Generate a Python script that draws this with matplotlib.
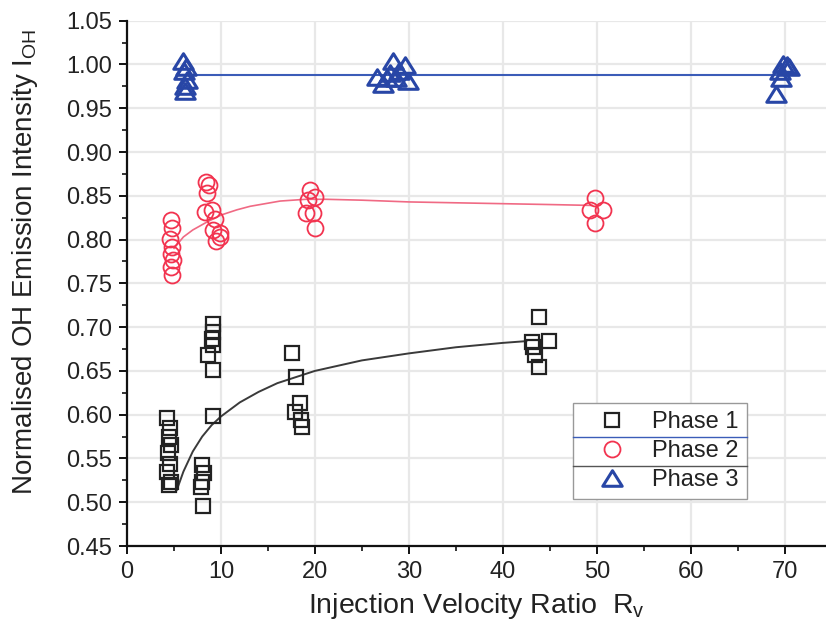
import matplotlib
matplotlib.use("Agg")
import matplotlib.pyplot as plt
from matplotlib.path import Path
from matplotlib.lines import Line2D
from matplotlib.ticker import MultipleLocator, FormatStrFormatter

plt.rcParams["font.family"] = ["Liberation Sans", "DejaVu Sans"]
plt.rcParams["mathtext.default"] = "regular"

# Phase 1 measurements (squares)
p1_x = [4.3, 4.6, 4.5, 4.7, 4.4, 4.6, 4.3, 4.7, 4.5,
        9.1, 9.2, 9.0, 9.1, 8.6, 9.2, 9.2,
        8.0, 8.2, 8.0, 7.9, 8.1,
        17.6, 18.0, 18.4, 17.9, 18.5, 18.6,
        43.9, 43.1, 44.9, 43.2, 43.4, 43.9]
p1_y = [0.596, 0.585, 0.575, 0.565, 0.556, 0.544, 0.535, 0.523, 0.520,
        0.704, 0.695, 0.687, 0.680, 0.668, 0.651, 0.598,
        0.542, 0.533, 0.523, 0.517, 0.496,
        0.670, 0.643, 0.613, 0.603, 0.594, 0.586,
        0.711, 0.683, 0.684, 0.677, 0.668, 0.655]

# Phase 2 measurements (circles)
p2_x = [4.7, 4.8, 4.6, 4.8, 4.7, 4.9, 4.7, 4.8,
        8.4, 8.75, 8.5, 8.3, 9.0, 9.4, 9.2, 9.9, 9.5, 9.9,
        19.5, 20.0, 19.3, 19.8, 19.1, 20.0,
        49.8, 49.3, 50.7, 49.8]
p2_y = [0.822, 0.813, 0.801, 0.792, 0.784, 0.777, 0.769, 0.760,
        0.866, 0.862, 0.853, 0.832, 0.834, 0.824, 0.811, 0.807, 0.798, 0.803,
        0.857, 0.849, 0.845, 0.830, 0.830, 0.813,
        0.847, 0.834, 0.834, 0.819]

# Phase 3 measurements (triangles)
p3_x = [6.0, 6.3, 6.1, 6.4, 6.2, 6.2,
        26.6, 27.2, 27.7, 28.0, 28.3, 28.6, 29.0, 29.6, 29.9,
        69.8, 70.2, 70.5, 69.5, 69.6, 69.1]
p3_y = [1.004, 0.997, 0.993, 0.982, 0.975, 0.970,
        0.986, 0.978, 0.984, 0.990, 1.004, 0.985, 0.992, 0.999, 0.981,
        1.001, 0.999, 0.997, 0.992, 0.984, 0.966]

# Trend curves
fit1_x = [5.3, 6, 7, 8, 9, 10, 12, 14, 16, 18, 20, 25, 30, 35, 40, 42.5]
fit1_y = [0.514, 0.535, 0.558, 0.575, 0.588, 0.598, 0.614, 0.626, 0.636,
          0.643, 0.650, 0.662, 0.670, 0.677, 0.682, 0.684]
fit2_x = [5.0, 6, 7, 8.5, 10, 11.7, 13.1, 16.3, 19, 21.2, 25, 30, 35, 40, 45, 49.5]
fit2_y = [0.790, 0.803, 0.811, 0.820, 0.828, 0.834, 0.838, 0.844, 0.846,
          0.846, 0.845, 0.843, 0.842, 0.841, 0.840, 0.839]
fit3_x = [6.0, 70.5]
fit3_y = [0.988, 0.988]

labels = ["Phase 1", "Phase 2", "Phase 3"]

BLACK = "#222222"
RED = "#f2334f"
RED_LINE = "#f06a84"
BLUE = "#2846a6"
BLUE_LINE = "#3b5cb8"

# wide, flat triangle marker
tri = Path([(0, 0.8), (-1, -0.8), (1, -0.8), (0, 0.8)],
           [Path.MOVETO, Path.LINETO, Path.LINETO, Path.CLOSEPOLY])

fig = plt.figure(figsize=(8.26, 6.31), dpi=100)
ax = fig.add_axes([0.1538, 0.1347, 0.8462, 0.8325])

ax.plot(fit1_x, fit1_y, color="#3a3a3a", lw=1.4, zorder=2)
ax.plot(fit2_x, fit2_y, color=RED_LINE, lw=1.2, zorder=2)
ax.plot(fit3_x, fit3_y, color=BLUE_LINE, lw=1.5, zorder=2)

h1, = ax.plot(p1_x, p1_y, ls="none", marker="s", ms=9.5, mfc="none",
              mec=BLACK, mew=1.6, zorder=3)
h2, = ax.plot(p2_x, p2_y, ls="none", marker="o", ms=11.5, mfc="none",
              mec=RED, mew=1.3, zorder=3)
h3, = ax.plot(p3_x, p3_y, ls="none", marker=tri, ms=14, mfc="none",
              mec=BLUE, mew=2.2, zorder=3)

ax.set_xlim(0, 74.4)
ax.set_ylim(0.45, 1.05)
ax.xaxis.set_major_locator(MultipleLocator(10))
ax.xaxis.set_minor_locator(MultipleLocator(5))
ax.yaxis.set_major_locator(MultipleLocator(0.05))
ax.yaxis.set_minor_locator(MultipleLocator(0.025))
ax.yaxis.set_major_formatter(FormatStrFormatter("%.2f"))

ax.grid(True, which="major", color="#e8e8e8", lw=1.6, zorder=0)
ax.set_axisbelow(True)

for s in ("top", "right"):
    ax.spines[s].set_visible(False)
for s in ("left", "bottom"):
    ax.spines[s].set_linewidth(1.6)
    ax.spines[s].set_color("#111111")

ax.tick_params(which="major", direction="out", length=5.5, width=1.4,
               labelsize=17, colors="#111111", labelcolor="#222222", pad=5)
ax.tick_params(which="minor", direction="out", length=3.5, width=1.2,
               colors="#111111")

ax.set_xlabel("Injection Velocity Ratio  R$_v$", fontsize=20.5,
              color="#222222", labelpad=6)
ax.set_ylabel("Normalised OH Emission Intensity I$_{OH}$", fontsize=20,
              color="#222222")
ax.yaxis.set_label_coords(-0.125, 0.54)

leg = ax.legend([h1, h2, h3], labels, loc="upper left",
                bbox_to_anchor=(0.6376, 0.2728), fontsize=17, frameon=True,
                fancybox=False, edgecolor="#999999", framealpha=1,
                borderpad=0.35, labelspacing=0.3, handlelength=2.6,
                handletextpad=0.4, borderaxespad=0)
leg.get_frame().set_linewidth(1.0)
for t in leg.get_texts():
    t.set_color("#222222")

# row separators inside the legend box
fig.canvas.draw()
frame = leg.get_frame().get_window_extent()
texts = [t.get_window_extent() for t in leg.get_texts()]
inv = fig.transFigure.inverted()
sep_colors = [BLUE_LINE, "#555555"]
for i in range(2):
    y_sep = 0.5 * (texts[i].y0 + texts[i + 1].y1)
    (fx0, fy), (fx1, _) = inv.transform([(frame.x0, y_sep), (frame.x1, y_sep)])
    fig.add_artist(Line2D([fx0, fx1], [fy, fy], color=sep_colors[i], lw=1.0))

fig.savefig("out.png", dpi=100)
